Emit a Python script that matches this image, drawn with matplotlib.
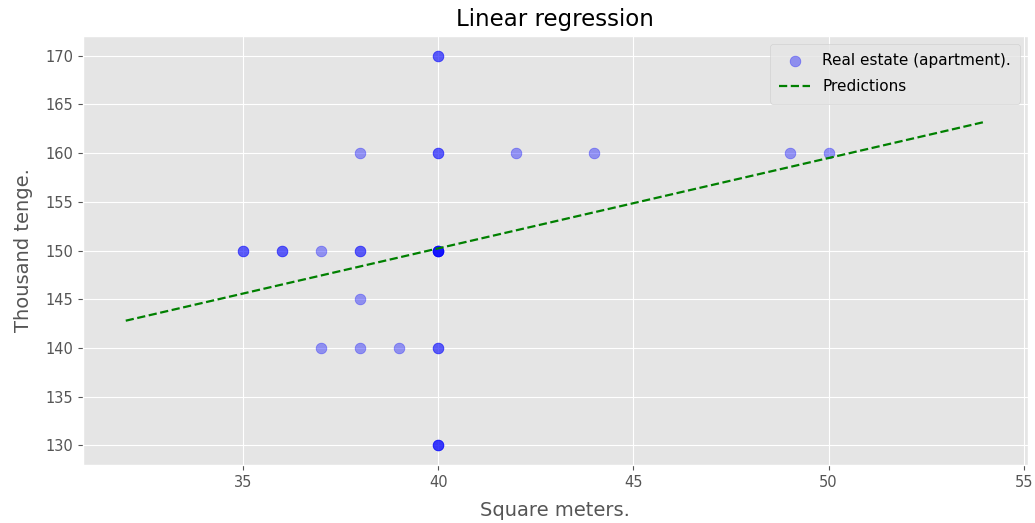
import matplotlib
matplotlib.use("Agg")
import matplotlib.pyplot as plt

plt.style.use('ggplot')

# Apartments: area (square meters) and price (thousand tenge)
area = [35, 35, 36, 36, 37, 38, 38, 40, 40, 40, 40, 40,
        40, 40, 38, 40, 40, 42, 44, 49, 50,
        38, 37, 38, 39, 40, 40, 40, 40, 40]
price = [150, 150, 150, 150, 150, 150, 150, 150, 150, 150, 150, 150,
         170, 170, 160, 160, 160, 160, 160, 160, 160,
         145, 140, 140, 140, 140, 140, 130, 130, 130]

# Regression line end points
pred_x = [32, 54]
pred_y = [142.8, 163.2]

fig = plt.figure(figsize=(10.35, 5.23), dpi=100)
ax = fig.add_axes([0.080, 0.111, 0.913, 0.820])

ax.scatter(area, price, color='blue', alpha=0.38, s=60, label='Real estate (apartment).')
ax.plot(pred_x, pred_y, color='green', linestyle='--', linewidth=1.6, label='Predictions')

ax.set_title('Linear regression', color='black', fontsize=16.5, pad=7)
ax.set_xlabel('Square meters.', fontsize=14, labelpad=8)
ax.set_ylabel('Thousand tenge.', fontsize=14, labelpad=9)
ax.tick_params(labelsize=10.5)
ax.legend(loc='upper right', fontsize=11, labelspacing=0.75, borderpad=0.6)

fig.savefig('out.png', dpi=100)
